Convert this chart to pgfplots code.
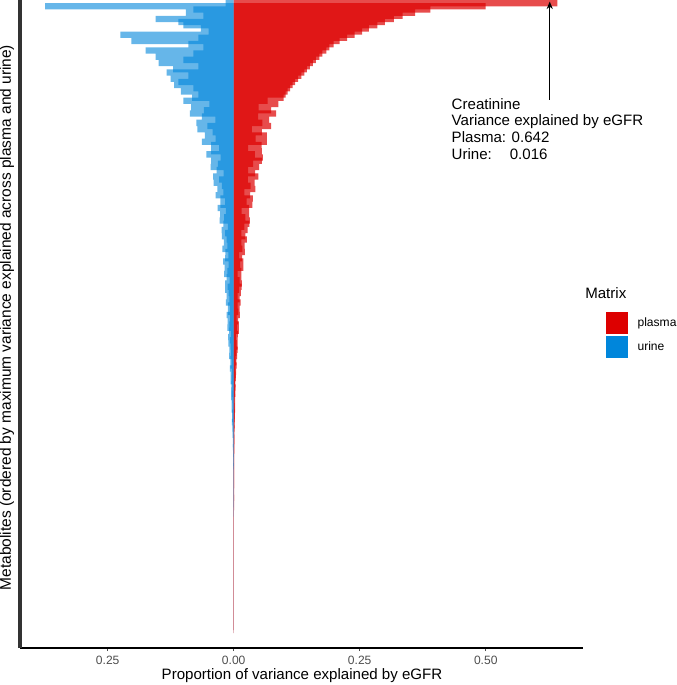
\documentclass[border=0pt]{standalone}
\usepackage{fontspec}
\setmainfont{Liberation Sans}
\usepackage{pgfplots}
\pgfplotsset{compat=1.18}
\usepackage{pgfplotstable}
\usetikzlibrary{arrows.meta}
\definecolor{plasmared}{RGB}{221,0,0}
\definecolor{urineblue}{RGB}{0,134,219}
\definecolor{tickgray}{RGB}{77,77,77}
\definecolor{axisdark}{RGB}{51,51,51}
\pgfplotsset{sqlegend/.style={legend image code/.code={\fill[##1,fill opacity=1,draw=none] (0pt,-8pt) rectangle (16pt,8pt);}}}

\pgfplotstableread{
k p u
1 0.642 0.016
2 0.50 0.374
3 0.39 0.08
4 0.36 0.095
5 0.335 0.06
6 0.318 0.155
7 0.30 0.11
8 0.285 0.10
9 0.268 0.065
10 0.255 0.05
11 0.240 0.225
12 0.225 0.07
13 0.210 0.203
14 0.198 0.09
15 0.190 0.06
16 0.184 0.175
17 0.176 0.08
18 0.170 0.155
19 0.163 0.10
20 0.157 0.149
21 0.151 0.07
22 0.145 0.12
23 0.140 0.133
24 0.134 0.09
25 0.128 0.125
26 0.122 0.11
27 0.117 0.118
28 0.112 0.08
29 0.107 0.105
30 0.103 0.07
31 0.099 0.0824
32 0.0672 0.100
33 0.0884 0.0485
34 0.0495 0.0846
35 0.0740 0.0592
36 0.084 0.087
37 0.0486 0.063
38 0.0702 0.0365
39 0.057 0.0741
40 0.074 0.0525
41 0.036 0.072
42 0.056 0.042
43 0.0656 0.057
44 0.0436 0.0358
45 0.066 0.063
46 0.0553 0.045
47 0.0284 0.029
48 0.0558 0.0448
49 0.042 0.054
50 0.058 0.026
51 0.056 0.045
52 0.0385 0.0312
53 0.0504 0.046
54 0.0286 0.0338
55 0.0425 0.0198
56 0.049 0.0409
57 0.0282 0.0287
58 0.0414 0.040
59 0.0338 0.0234
60 0.043 0.0323
61 0.021 0.0204
62 0.0328 0.036
63 0.038 0.0263
64 0.0254 0.017
65 0.037 0.0264
66 0.0306 0.032
67 0.0158 0.0155
68 0.0306 0.027
69 0.0231 0.0189
70 0.032 0.028
71 0.031 0.0203
72 0.021 0.0117
73 0.0276 0.0238
74 0.0154 0.0168
75 0.023 0.0237
76 0.026 0.014
77 0.015 0.0196
78 0.0216 0.0125
79 0.0173 0.0223
80 0.022 0.0165
81 0.0108 0.0108
82 0.0168 0.017
83 0.019 0.0208
84 0.0127 0.0102
85 0.019 0.018
86 0.0153 0.0127
87 0.0079 0.0192
88 0.0153 0.0141
89 0.0116 0.0083
90 0.016 0.0171
91 0.0156 0.0123
92 0.0106 0.0172
93 0.0141 0.0101
94 0.0079 0.0139
95 0.0119 0.0088
96 0.0136 0.0156
97 0.0079 0.0114
98 0.0115 0.0074
99 0.0093 0.0115
100 0.012 0.0142
101 0.0058 0.007
102 0.009 0.0122
103 0.0103 0.0086
104 0.0068 0.0128
105 0.010 0.0093
106 0.0082 0.0054
107 0.0041 0.011
108 0.0079 0.0078
109 0.0059 0.0108
110 0.008 0.0062
111 0.0077 0.0085
112 0.0051 0.0053
113 0.0067 0.0092
114 0.0036 0.0066
115 0.0053 0.0042
116 0.0059 0.0064
117 0.0033 0.0076
118 0.0047 0.0036
119 0.0036 0.0061
120 0.0045 0.0042
121 0.0022 0.006
122 0.0033 0.0044
123 0.0037 0.0025
124 0.0024 0.0051
125 0.0035 0.0036
126 0.0029 0.005
127 0.0014 0.0029
128 0.0027 0.0039
129 0.002 0.0024
130 0.0027 0.0042
131 0.0025 0.0031
132 0.0017 0.002
133 0.0021 0.003
134 0.0012 0.0034
135 0.0016 0.0016
136 0.0018 0.0026
137 0.001 0.0017
138 0.0014 0.0024
139 0.0011 0.0017
140 0.0013 0.0009
141 0.0012 0.0017
142 0.0008 0.0016
143 0.0011 0.0009
144 0.0007 0.0013
145 0.001 0.0012
146 0.001 0.0008
147 0.0006 0.0011
148 0.0009 0.001
149 0.0007 0.0007
150 0.0009 0.0009
151 0.0008 0.0007
152 0.0006 0.0008
153 0.0008 0.0006
154 0.0007 0.0007
155 0.0007 0.0006
156 0.0005 0.0006
157 0.0007 0.0005
158 0.0006 0.0006
159 0.0006 0.0005
160 0.0005 0.0005
161 0.0006 0.0005
162 0.0005 0.0004
163 0.0005 0.0005
164 0.0004 0.0004
165 0.0005 0.0004
166 0.0005 0.0004
167 0.0004 0.0003
168 0.0004 0.0004
169 0.0005 0.0003
170 0.0004 0.0003
171 0.0004 0.0003
172 0.0003 0.0003
173 0.0004 0.0003
174 0.0004 0.0002
175 0.0003 0.0003
176 0.0003 0.0002
177 0.0004 0.0002
178 0.0003 0.0003
179 0.0003 0.0002
180 0.0003 0.0002
181 0.0003 0.0002
182 0.0003 0.0002
183 0.0002 0.0002
184 0.0003 0.0001
185 0.0002 0.0002
186 0.0003 0.0001
187 0.0002 0.0001
188 0.0002 0.0002
189 0.0002 0.0001
190 0.0002 0.0001
191 0.0002 0.0001
192 0.0002 0.0001
193 0.0002 0.0001
194 0.0001 0.0001
195 0.0002 0.0001
196 0.0001 0.0001
197 0.0001 0.0001
198 0.0001 0.0001
199 0.0001 0.0001
200 0.0001 0.0001
}\metab

\begin{document}
\begin{tikzpicture}
\useasboundingbox (-14.6pt,-27pt) rectangle (479.6pt,473.04pt);
\begin{axis}[
  scale only axis, width=410.99pt, height=473.04pt,
  xmin=-0.424, xmax=0.693, ymin=0, ymax=205.7, y dir=reverse,
  clip=false, unbounded coords=discard, filter discard warning=false,
  axis x line*=bottom, axis y line*=left,
  x axis line style={line width=1pt, black, -},
  y axis line style={line width=3.3pt, axisdark, -},
  xtick={-0.25,0,0.25,0.5}, xticklabels={0.25,0.00,0.25,0.50},
  ytick=\empty,
  tick align=outside, major tick length=2.2pt,
  xtick style={tickgray, line width=0.8pt},
  xticklabel style={font=\fontsize{8.8}{10}\selectfont, text=tickgray},
  /pgf/number format/assume math mode=true,
  xlabel={Proportion of variance explained by eGFR},
  ylabel={Metabolites (ordered by maximum variance explained across plasma and urine)},
  label style={font=\fontsize{11}{13}\selectfont},
  xlabel style={at={(axis description cs:0.5009,-0.0431)}, anchor=center},
  ylabel style={at={(axis description cs:-0.0231,0.51)}, anchor=center, font=\fontsize{11.3}{13}\selectfont},
  legend style={at={(axis description cs:1.041,0.5185)}, anchor=north west,
    draw=none, fill=none, inner sep=0pt, outer sep=0pt, row sep=1.5pt, column sep=5pt,
    font=\fontsize{8.8}{10}\selectfont, cells={anchor=west}},
  legend cell align=left,
]
% plasma and urine: even and odd rows drawn as two overlapping translucent layers
\addplot[xbar, bar width=2, bar shift=0pt, fill=plasmared, fill opacity=0.7, draw=none, sqlegend]
  table[x expr={mod(\thisrow{k},2)==0 ? \thisrow{p} : nan}, y=k] {\metab};
\addlegendentry{plasma}
\addplot[xbar, bar width=2, bar shift=0pt, fill=urineblue, fill opacity=0.6, draw=none, sqlegend]
  table[x expr={mod(\thisrow{k},2)==0 ? -\thisrow{u} : nan}, y=k] {\metab};
\addlegendentry{urine}
\addplot[xbar, bar width=2, bar shift=0pt, fill=plasmared, fill opacity=0.7, draw=none, forget plot]
  table[x expr={mod(\thisrow{k},2)==1 ? \thisrow{p} : nan}, y=k] {\metab};
\addplot[xbar, bar width=2, bar shift=0pt, fill=urineblue, fill opacity=0.6, draw=none, forget plot]
  table[x expr={mod(\thisrow{k},2)==1 ? -\thisrow{u} : nan}, y=k] {\metab};
\draw[line width=0.7pt, -{Stealth[length=5.5pt, width=4.5pt]}] (axis cs:0.627,31.7) -- (axis cs:0.627,0.5);
\node[anchor=north west, align=left, font=\fontsize{11}{12.2}\selectfont, inner sep=0pt]
  at (axis cs:0.432,31.1) {Creatinine\\Variance explained by eGFR\\Plasma: 0.642\\Urine:\hspace{1.19em}0.016};
\node[anchor=base west, font=\fontsize{11}{13}\selectfont, inner sep=0pt]
  at (axis description cs:1.0036,0.540) {Matrix};
\end{axis}
\end{tikzpicture}
\end{document}
